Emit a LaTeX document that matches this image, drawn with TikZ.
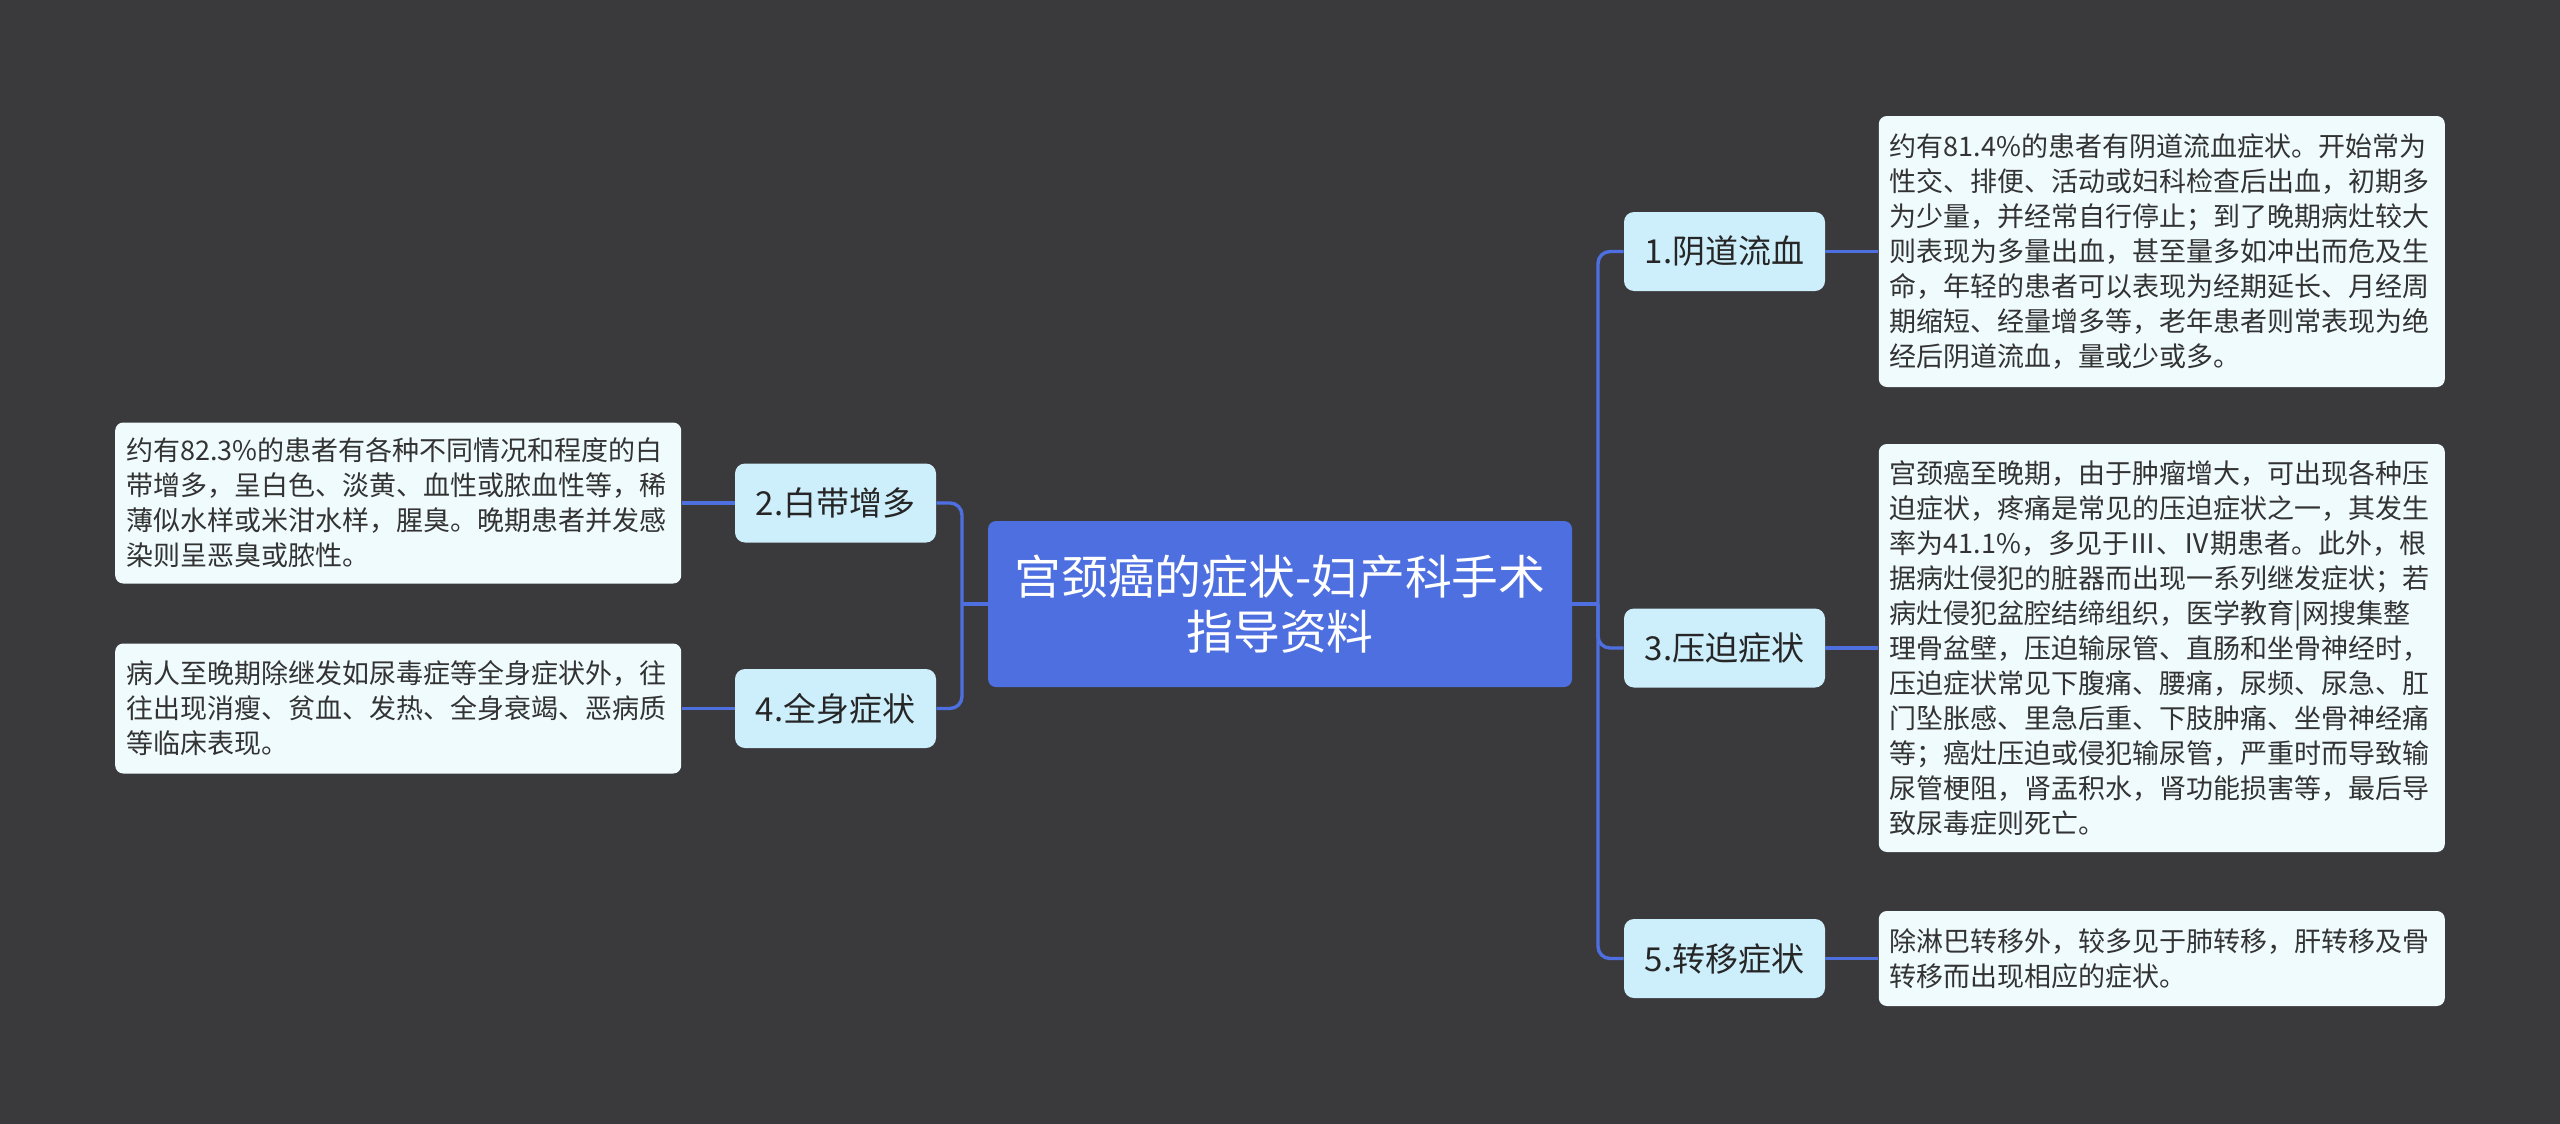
\documentclass[tikz,border=0pt]{standalone}
\usepackage{fontspec}
\usepackage{xcolor}
\usetikzlibrary{positioning, calc}
\setmainfont{Noto Sans CJK SC}
\definecolor{bgdark}{HTML}{3A393B}
\definecolor{topicblue}{HTML}{4E6FE0}
\definecolor{branchblue}{HTML}{CDEEFB}
\definecolor{leafwhite}{HTML}{F0FBFD}
\tikzset{topic/.style={fill=topicblue, rounded corners=4pt, text=white, minimum width=292pt, minimum height=83pt, align=center, font=\fontsize{23.4}{27.75}\selectfont},
branch/.style={fill=branchblue, rounded corners=5pt, text=black!85, minimum width=100.5pt, minimum height=39.5pt, font=\fontsize{16.5}{20}\selectfont},
leaf/.style={fill=leafwhite, rounded corners=4pt, text=black!80, text width=272pt, inner xsep=5.5pt, inner ysep=0pt, align=left, font=\fontsize{13.5}{17.5}\selectfont},
line/.style={draw=topicblue, line width=1.7pt, rounded corners=6pt}
}

\begin{document}
\begin{tikzpicture}[x=0.5pt, y=-0.5pt]
\fill[bgdark] (0,0) rectangle (2560,1124);
\node[topic] (t) at (1280,604) {宫颈癌的症状-妇产科手术\\指导资料};
% branches on the right
\node[branch] (b1) at (1724.5,251.5) {1.阴道流血};
\node[branch] (b3) at (1724.5,648) {3.压迫症状};
\node[branch] (b5) at (1724.5,958.5) {5.转移症状};
% branches on the left
\node[branch] (b2) at (835.5,503) {2.白带增多};
\node[branch] (b4) at (835.5,708.5) {4.全身症状};
% the text boxes
\node[leaf, minimum height=135.5pt, right=26.5pt of b1] (l1) {约有81.4\%的患者有阴道流血症状。开始常为\\性交、排便、活动或妇科检查后出血，初期多\\为少量，并经常自行停止；到了晚期病灶较大\\则表现为多量出血，甚至量多如冲出而危及生\\命，年轻的患者可以表现为经期延长、月经周\\期缩短、经量增多等，老年患者则常表现为绝\\经后阴道流血，量或少或多。};
\node[leaf, minimum height=204pt, right=26.5pt of b3] (l3) {宫颈癌至晚期，由于肿瘤增大，可出现各种压\\迫症状，疼痛是常见的压迫症状之一，其发生\\率为41.1\%，多见于Ⅲ、Ⅳ期患者。此外，根\\据病灶侵犯的脏器而出现一系列继发症状；若\\病灶侵犯盆腔结缔组织，医学教育|网搜集整\\理骨盆壁，压迫输尿管、直肠和坐骨神经时，\\压迫症状常见下腹痛、腰痛，尿频、尿急、肛\\门坠胀感、里急后重、下肢肿痛、坐骨神经痛\\等；癌灶压迫或侵犯输尿管，严重时而导致输\\尿管梗阻，肾盂积水，肾功能损害等，最后导\\致尿毒症则死亡。};
\node[leaf, minimum height=47.5pt, right=26.5pt of b5] (l5) {除淋巴转移外，较多见于肺转移，肝转移及骨\\转移而出现相应的症状。};
\node[leaf, minimum height=80.5pt, left=26.5pt of b2] (l2) {约有82.3\%的患者有各种不同情况和程度的白\\带增多，呈白色、淡黄、血性或脓血性等，稀\\薄似水样或米泔水样，腥臭。晚期患者并发感\\染则呈恶臭或脓性。};
\node[leaf, minimum height=65pt, left=26.5pt of b4] (l4) {病人至晚期除继发如尿毒症等全身症状外，往\\往出现消瘦、贫血、发热、全身衰竭、恶病质\\等临床表现。};
\coordinate (rj) at ($(t.east)!0.5!(t.east -| b1.west)$);
\coordinate (lj) at ($(t.west)!0.5!(t.west -| b2.east)$);
\draw[line] (t.east) -- (rj);
\draw[line] (b1.west) -| (rj) |- (b5.west);
\draw[line] (rj) |- (b3.west);
\draw[line] (t.west) -- (lj);
\draw[line] (b2.east) -| (lj) |- (b4.east);
\draw[line] (b1.east) -- (l1.west);
\draw[line] (b3.east) -- (l3.west);
\draw[line] (b5.east) -- (l5.west);
\draw[line] (b2.west) -- (l2.east);
\draw[line] (b4.west) -- (l4.east);
\end{tikzpicture}
\end{document}
